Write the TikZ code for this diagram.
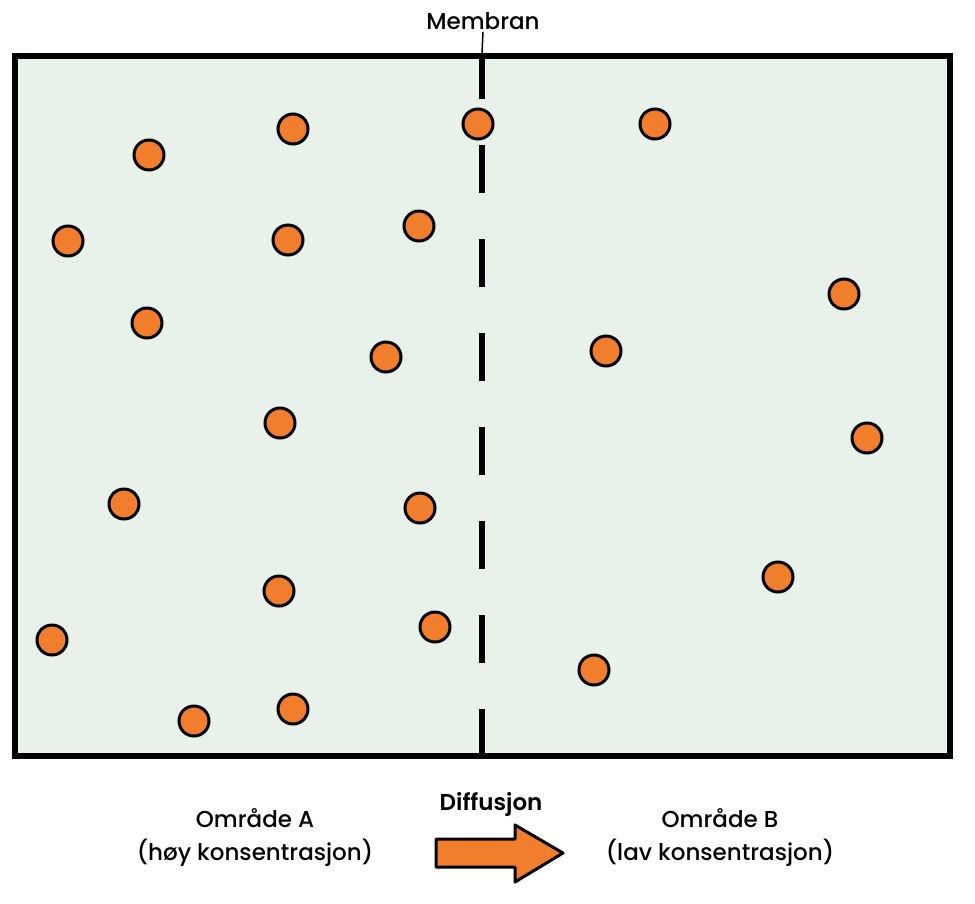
\documentclass[tikz,border=0pt]{standalone}
\usepackage{fontspec}
\setmainfont{Poppins}[UprightFont={* Medium}, BoldFont={* SemiBold}]
\usepackage{xcolor}
\usetikzlibrary{positioning}
\definecolor{mbgreen}{RGB}{232,242,234}
\definecolor{mborange}{RGB}{240,126,44}
\tikzstyle{particle} = [circle, draw=black, fill=mborange, line width=3pt, minimum size=30pt, inner sep=0pt]
\tikzstyle{regiontext} = [align=center, font=\fontsize{23}{33}\selectfont, inner sep=2pt]
\tikzstyle{wall} = [line width=5.5pt, draw=black]

\begin{document}
\begin{tikzpicture}[x=1pt, y=-1pt]
\useasboundingbox (0,0) rectangle (975,903);
% container
\draw[wall, fill=mbgreen] (15,56) rectangle (950,756);
% membrane
\draw[wall, line width=6pt, dash pattern=on 48pt off 46pt, dash phase=6pt] (482,57) -- (482,757);
\coordinate (membrantop) at (482,53);
\node (membranlabel) [regiontext] at (483,21) {Membran};
\draw[line width=1.5pt] (membranlabel.south) -- (membrantop);

% particles, side A
\foreach \px/\py [count=\i] in {149/155, 293/129, 68/241, 288/240, 419/226, 147/323, 386/357, 280/423, 124/504, 420/508, 279/591, 52/640, 435/627, 194/721, 293/709}
  \node (pa\i) [particle] at (\px,\py) {};
% particle in the membrane
\node (pm) [particle] at (478,124) {};
% particles, side B
\foreach \px/\py [count=\i] in {655/124, 844/294, 606/351, 867/438, 778/577, 594/670}
  \node (pb\i) [particle] at (\px,\py) {};

% labels below
\node (omrA) [regiontext] at (255,838) {Område A\\(høy konsentrasjon)};
\node (omrB) [regiontext] at (720,838) {Område B\\(lav konsentrasjon)};
\node (diffusjon) [regiontext, font=\fontsize{23}{33}\selectfont\bfseries] at (491,805) {Diffusjon};
\draw[line width=3pt, fill=mborange, line join=round] (436,839) -- (515,839) -- (515,825) -- (563,853) -- (515,882) -- (515,867) -- (436,867) -- cycle;
\end{tikzpicture}
\end{document}
